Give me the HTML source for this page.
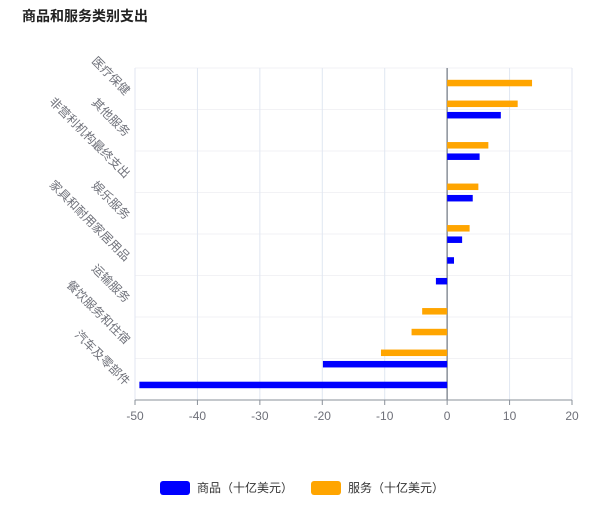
<!DOCTYPE html>
<html><head><meta charset="utf-8"><style>
body{margin:0;background:#fff;width:608px;height:510px;overflow:hidden;font-family:"Liberation Sans","Noto Sans CJK SC",sans-serif;}
</style></head><body>
<svg id="chart" width="608" height="510" style="font-family:'Liberation Sans','Noto Sans CJK SC',sans-serif">
<text x="22" y="21" font-size="14" font-weight="bold" fill="#222">商品和服务类别支出</text>
<g id="grid"></g><g id="bars"></g><g id="axes"></g>
<g>
<g><rect x="160" y="481" width="30" height="14" rx="3" fill="#0000ff"/><text x="197" y="492" font-size="12" fill="#333">商品（十亿美元）</text></g>
<g><rect x="311" y="481" width="30" height="14" rx="3" fill="#ffa500"/><text x="348" y="492" font-size="12" fill="#333">服务（十亿美元）</text></g>
</g>
</svg>
<script>
const categories=["汽车及零部件","服装和鞋类","餐饮服务和住宿","汽油和能源","运输服务","食品和饮料","家具和耐用家居用品","其他非耐用品","娱乐服务","住房和公用事业","非营利机构最终支出","金融服务和保险","其他服务","其他耐用品","医疗保健"];
const goods=[-49.3,-19.9,0,0,0,-1.8,1.1,2.4,0,4.1,0,5.2,0,8.6,0];
const services=[0,-10.6,-5.7,-4.0,0,0,0,3.6,0,5.0,0,6.6,0,11.3,13.6];
const xTicks=[-50,-40,-30,-20,-10,0,10,20];
const NS="http://www.w3.org/2000/svg";
const L=135,R=572,T=68,B=400;
const xs=v=>L+(v+50)/70*(R-L);
const slot=(B-T)/16;
const yc=i=>B-slot*(i+1);
function mk(tag,attrs,parent){const e=document.createElementNS(NS,tag);for(const k in attrs)e.setAttribute(k,attrs[k]);parent.appendChild(e);return e;}
const grid=document.getElementById('grid'),bars=document.getElementById('bars'),axes=document.getElementById('axes');
for(let k=0;k<=8;k++){const y=B-k*(B-T)/8;
 const l=mk('line',{x1:L,x2:R,y1:y,y2:y,stroke:'#f2f2f5','stroke-width':1},grid);
 
 }
xTicks.forEach(t=>{const x=xs(t);
 const g=mk('line',{x1:x,x2:x,y1:T,y2:B,stroke:t===0?'#8a9099':'#e0e6f1','stroke-width':t===0?1.5:1},grid);
 
 
 const tk=mk('line',{x1:x,x2:x,y1:B,y2:B+5,stroke:'#8a9099'},axes);
 
 
 const tx=mk('text',{x:x,y:B+20,'font-size':12,fill:'#6e7079','text-anchor':'middle'},axes);
 tx.textContent=t;
 
 });
const ax=mk('line',{x1:L,x2:R,y1:B,y2:B,stroke:'#8a9099','stroke-width':1},axes);


const bh=6.5;
categories.forEach((c,i)=>{const y=yc(i);
 [[services[i],'#ffa500',-5.7,'bar-services'],[goods[i],'#0000ff',5.7,'bar-goods']].forEach(([v,col,off,nm])=>{
  if(v===0)return;const x0=xs(0),x1=xs(v);
  const r=mk('rect',{x:Math.min(x0,x1),y:y+off-bh/2,width:Math.abs(x1-x0),height:bh,fill:col},bars);
  
  });
 if(i%2===0){const lx=125,ly=y+7;
  const t=mk('text',{x:lx,y:ly,'font-size':12,fill:'#6e7079','text-anchor':'end',transform:`rotate(45 ${lx} ${ly})`},axes);
  t.textContent=c;
  
  }
});
</script>
</body></html>
